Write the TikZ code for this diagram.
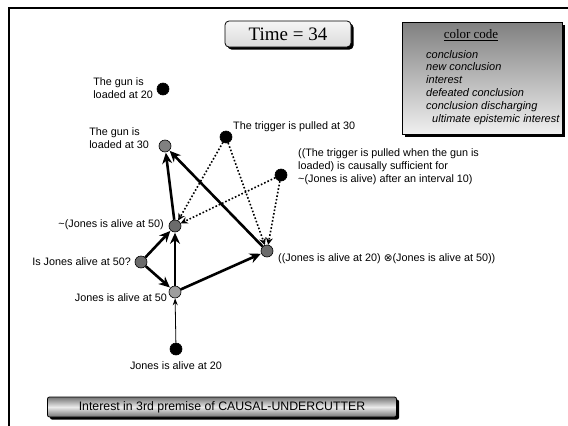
\documentclass[tikz,border=0pt]{standalone}
\usepackage{fontspec}
\setmainfont{Liberation Sans}
\newfontfamily\serifface{Liberation Serif}
\newfontfamily\symface{DejaVu Sans}
\usetikzlibrary{arrows.meta,shadows}
\begin{document}
\begin{tikzpicture}[x=1pt,y=-1pt,
  dot/.style={circle,draw=black,line width=0.6pt,minimum size=12pt,inner sep=0pt},
  concl/.style={dot,fill=black},
  grayA/.style={dot,fill=black!50},
  grayB/.style={dot,fill=black!58},
  grayC/.style={dot,fill=black!38},
  lbl/.style={font=\fontsize{10.8}{13.5}\selectfont,inner sep=0pt,align=left},
  thick arrow/.style={line width=2.6pt,-{Stealth[length=11pt,width=10pt]},shorten >=0.5pt},
  thin arrow/.style={line width=0.8pt,-{Stealth[length=7pt,width=5pt]}},
  dot arrow/.style={line width=1.6pt,dotted,-{Stealth[length=7pt,width=7pt,open,fill=white]}},
  boxshadow/.style={drop shadow={shadow xshift=2.5pt,shadow yshift=-2.5pt,fill=black,opacity=1}}
]
\useasboundingbox (0,0) rectangle (568,426);
% page frame
\draw[line width=1.8pt] (9,426) -- (9,8) -- (568,8);

% title box
\node[boxshadow,draw=black,line width=0.8pt,rounded corners=4pt,
      top color=black!4,bottom color=black!14,minimum width=126pt,minimum height=26pt,
      font=\serifface\fontsize{19}{21}\selectfont] (time) at (288,34) {Time = 34};

% legend box
\node[boxshadow,draw=black,line width=0.8pt,top color=black!50,bottom color=black!6,
      minimum width=160pt,minimum height=112pt] (legend) at (482,78) {};
\node[font=\serifface\fontsize{13}{15}\selectfont,inner sep=0pt] (legtitle) at (471,35) {\underline{color code}};
\node[lbl,anchor=north west,font=\itshape\fontsize{11}{12.8}\selectfont] (legitems) at (426,50)
  {conclusion\\new conclusion\\interest\\defeated conclusion\\conclusion discharging\\\hspace*{6pt}ultimate epistemic interest};

% inference graph nodes
\node[concl] (gun20) at (163,89) {};
\node[grayA] (gun30) at (165,146) {};
\node[concl] (trig) at (226,137) {};
\node[concl] (suff) at (281,175) {};
\node[grayB] (notj) at (175,226) {};
\node[grayB] (isj) at (141,262) {};
\node[grayC] (j50) at (175,292) {};
\node[grayB] (conj) at (267,251) {};
\node[concl] (j20) at (176,349) {};

% node labels
\node[lbl,anchor=east] (lgun20) at (153,88) {The gun is\\loaded at 20};
\node[lbl,anchor=east] (lgun30) at (149,138) {The gun is\\loaded at 30};
\node[lbl,anchor=west] (ltrig) at (233,127) {The trigger is pulled at 30};
\node[lbl,anchor=west,font=\fontsize{10.8}{12.8}\selectfont] (lsuff) at (298,167) {((The trigger is pulled when the gun is\\loaded) is causally sufficient for\\\textasciitilde(Jones is alive) after an interval 10)};
\node[lbl,anchor=east] (lnotj) at (164,225) {\textasciitilde(Jones is alive at 50)};
\node[lbl,anchor=east] (lisj) at (131,262) {Is Jones alive at 50?};
\node[lbl,anchor=east] (lj50) at (167,298) {Jones is alive at 50};
\node[lbl,anchor=west] (lconj) at (278,259) {((Jones is alive at 20) {\symface\fontsize{10.5}{12}\selectfont ⊗}(Jones is alive at 50))};
\node[lbl,anchor=north] (lj20) at (176,361) {Jones is alive at 20};

% support links
\draw[thick arrow] (notj) -- (gun30);
\draw[thick arrow] (conj) -- (gun30);
\draw[thick arrow] (isj) -- (notj);
\draw[thick arrow] (isj) -- (j50);
\draw[thick arrow] (j50) -- (notj);
\draw[thick arrow] (j50) -- (conj);
\draw[thin arrow] (j20) -- (j50);

% defeat links
\draw[dot arrow] (trig) -- (notj);
\draw[dot arrow] (trig) -- (conj);
\draw[dot arrow] (suff) -- (notj);
\draw[dot arrow] (suff) -- (conj);

% status bar
\node[boxshadow,draw=black,line width=0.8pt,rounded corners=2pt,
      top color=black!55,bottom color=black!55,middle color=black!8,shading angle=0,
      minimum width=349pt,minimum height=20pt,font=\fontsize{12.3}{14}\selectfont] (status) at (222,407)
      {Interest in 3rd premise of CAUSAL-UNDERCUTTER};
\end{tikzpicture}
\end{document}
